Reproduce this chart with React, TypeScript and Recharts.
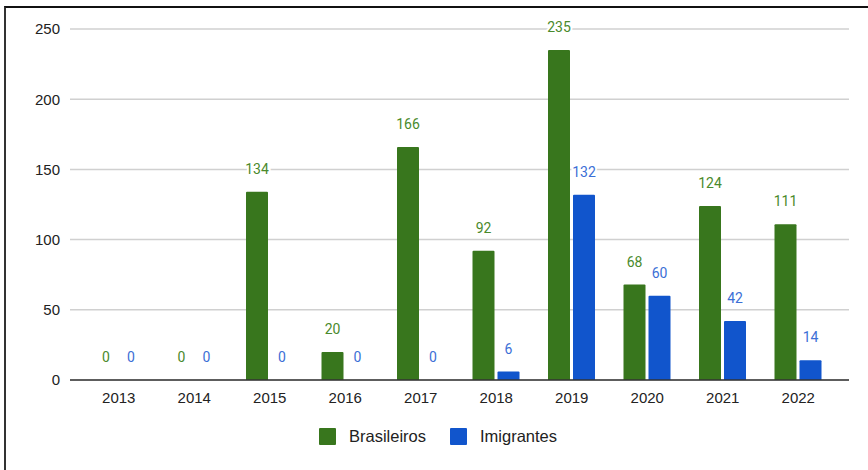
import { BarChart, Bar, XAxis, YAxis, CartesianGrid, Legend, LabelList } from "recharts";

const anos = ["2013", "2014", "2015", "2016", "2017", "2018", "2019", "2020", "2021", "2022"];
const brasileiros = [0, 0, 134, 20, 166, 92, 235, 68, 124, 111];
const imigrantes = [0, 0, 0, 0, 0, 6, 132, 60, 42, 14];
const yTicks = [0, 50, 100, 150, 200, 250];

const VERDE = "#38761d";
const AZUL = "#1155cc";

const data = anos.map((ano, i) => ({
  ano,
  Brasileiros: brasileiros[i],
  Imigrantes: imigrantes[i],
}));

const rotulo = (cor: string) => (props: any) => {
  const { x, y, width, value } = props;
  return (
    <text
      x={Number(x) + Number(width) / 2}
      y={Number(y) - 18}
      textAnchor="middle"
      fill={cor}
      fontSize={14}
      fontFamily="Roboto, sans-serif"
      stroke="#fff"
      strokeWidth={4}
      paintOrder="stroke"
    >
      {value}
    </text>
  );
};

const Legenda = () => (
  <div
    style={{
      display: "flex",
      justifyContent: "center",
      alignItems: "center",
      fontFamily: "'Liberation Sans', Arial, sans-serif",
      fontSize: 16.5,
      color: "#222",
      paddingLeft: 8,
    }}
  >
    {[
      { nome: "Brasileiros", cor: VERDE },
      { nome: "Imigrantes", cor: AZUL },
    ].map((item, i) => (
      <div key={item.nome} style={{ display: "flex", alignItems: "center", marginLeft: i ? 24 : 0 }}>
        <span style={{ width: 17, height: 17, background: item.cor, borderRadius: 1, marginRight: 13 }} />
        <span>{item.nome}</span>
      </div>
    ))}
  </div>
);

export default function App() {
  return (
    <div style={{ position: "absolute", left: 0, top: 0, width: 868, height: 470, background: "#fff", overflow: "hidden" }}>
      <div style={{ position: "absolute", left: 0, top: 0 }}>
        <BarChart
          width={868}
          height={470}
          data={data}
          margin={{ top: 29, right: 19, bottom: 41, left: 10 }}
          barGap={3}
          barCategoryGap={14}
        >
          <CartesianGrid vertical={false} stroke="#d0d0d0" strokeWidth={1.5} />
          <XAxis
            dataKey="ano"
            tickLine={false}
            axisLine={{ stroke: "#333", strokeWidth: 1.5 }}
            padding={{ left: 11, right: 13 }}
            height={30}
            tickMargin={6}
            tick={{ fill: "#222", fontSize: 15, fontFamily: "'Liberation Sans', Arial, sans-serif" }}
          />
          <YAxis
            domain={[0, 250]}
            ticks={yTicks}
            width={60}
            axisLine={false}
            tickLine={false}
            tickMargin={4}
            tick={{ fill: "#222", fontSize: 15, fontFamily: "'Liberation Sans', Arial, sans-serif" }}
          />
          <Legend content={<Legenda />} wrapperStyle={{ top: 427, left: 0, width: 868 }} />
          <Bar dataKey="Brasileiros" fill={VERDE} radius={[1, 1, 0, 0]} minPointSize={0.01} isAnimationActive={false}>
            <LabelList dataKey="Brasileiros" content={rotulo("#4a8a2c")} />
          </Bar>
          <Bar dataKey="Imigrantes" fill={AZUL} radius={[1, 1, 0, 0]} minPointSize={0.01} isAnimationActive={false}>
            <LabelList dataKey="Imigrantes" content={rotulo("#3c6fd6")} />
          </Bar>
        </BarChart>
      </div>
      <div
        style={{
          position: "absolute",
          left: 4,
          top: 6,
          width: 880,
          height: 480,
          borderTop: "2px solid #111",
          borderLeft: "2px solid #333",
          pointerEvents: "none",
          zIndex: 2,
        }}
      />
    </div>
  );
}
